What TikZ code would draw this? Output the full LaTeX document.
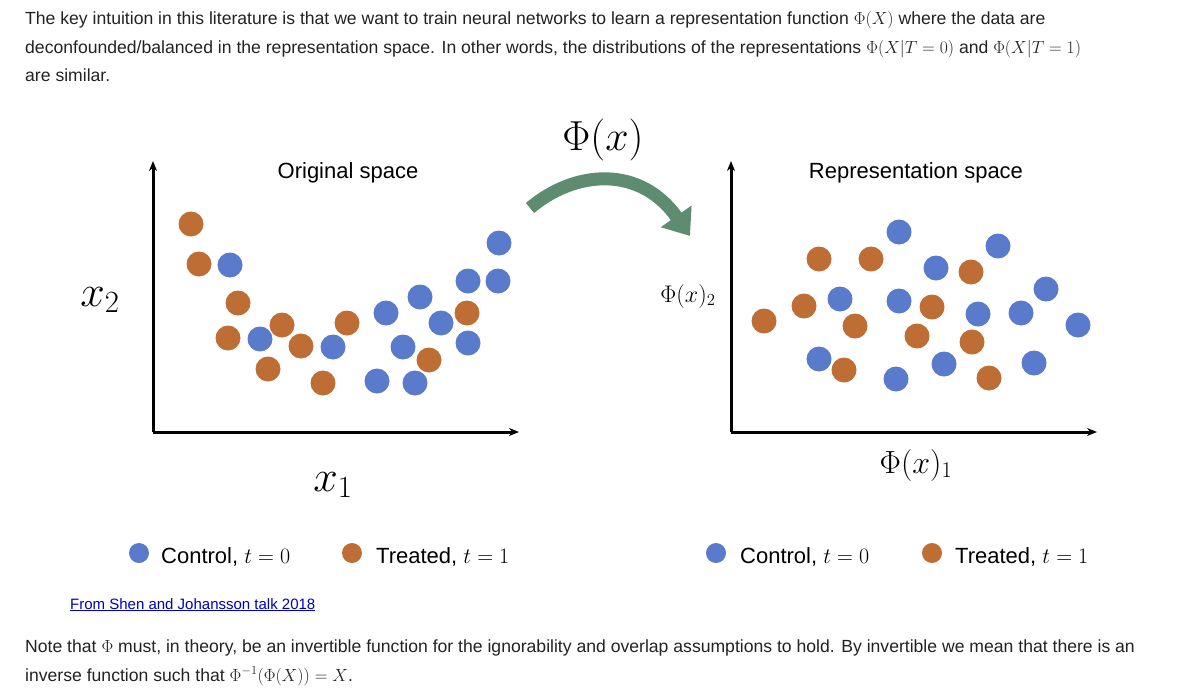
\RequirePackage{fix-cm}
\documentclass[tikz,border=0pt]{standalone}
\usepackage{fontspec}
\setmainfont{Liberation Sans}
\usetikzlibrary{arrows.meta}
\definecolor{blu}{HTML}{5A7BCB}
\definecolor{org}{HTML}{BE6E35}
\definecolor{grn}{HTML}{5E8C70}
\definecolor{txt}{HTML}{222222}
\begin{document}
\begin{tikzpicture}[x=1pt,y=-1pt,
  body/.style={anchor=base west,inner sep=0,font=\fontsize{17.6}{20}\selectfont,text=txt},
  b/.style={fill=blu,draw=none},
  o/.style={fill=org,draw=none},
  ax/.style={line width=3pt,-{Stealth[length=10pt,width=8pt]}},
  lab/.style={inner sep=0,font=\fontsize{22}{26}\selectfont},
  leg/.style={anchor=base west,inner sep=0,font=\fontsize{22}{26}\selectfont}]
\useasboundingbox (0,0) rectangle (1200,691);
\node[body] (t1) at (25,24) {The key intuition in this literature is that we want to train neural networks to learn a representation function $\Phi(X)$ where the data are};
\node[body] (t2) at (25,53) {deconfounded/balanced in the representation space. In other words, the distributions of the representations $\Phi(X|T=0)$ and $\Phi(X|T=1)$};
\node[body] (t3) at (25,81) {are similar.};
% axes
\coordinate (o1) at (153,432); \coordinate (y1) at (153,161); \coordinate (x1e) at (519,432);
\coordinate (o2) at (731,432); \coordinate (y2) at (731,161); \coordinate (x2e) at (1097,432);
\draw[ax] (o1) -- (y1); \draw[ax] (o1) -- (x1e);
\draw[ax] (o2) -- (y2); \draw[ax] (o2) -- (x2e);
\node[lab] (os) at (348,173) {Original space};
\node[lab] (rs) at (916,173) {Representation space};
\node[inner sep=0,font=\fontsize{44}{48}\selectfont] (xb) at (100,300) {$x_2$};
\node[inner sep=0,font=\fontsize{44}{48}\selectfont] (xa) at (333,485) {$x_1$};
\node[inner sep=0,font=\fontsize{24}{28}\selectfont] (p2) at (688,296) {$\Phi(x)_2$};
\node[inner sep=0,font=\fontsize{32}{36}\selectfont] (p1) at (916,465) {$\Phi(x)_1$};
\node[inner sep=0,font=\fontsize{42}{46}\selectfont] (ph) at (603,140) {$\Phi(x)$};
% arrow
\coordinate (as) at (530,208); \coordinate (ae) at (690,236);
\draw[grn,line width=13pt,-{Triangle[length=24pt,width=36pt]}] (as) .. controls (575,170) and (640,165) .. (ae);
% left dots
\foreach \x/\y in {191/224,199/264,238/303,228/338,282/325,301/346,268/369,347/323,323/383,429/360,467/313}
  \fill[o] (\x,\y) circle (12.5);
\foreach \x/\y in {230/265,260/339,333/347,386/313,420/297,403/347,377/381,415/383,441/323,468/281,498/281,499/243,468/343}
  \fill[b] (\x,\y) circle (12.5);
% right dots
\foreach \x/\y in {819/259,871/259,971/272,804/306,764/321,855/326,932/307,917/336,972/342,844/370,989/378}
  \fill[o] (\x,\y) circle (12.5);
\foreach \x/\y in {899/232,998/246,936/268,840/299,899/301,978/314,1021/313,1046/289,1078/325,819/359,944/364,1034/363,896/379}
  \fill[b] (\x,\y) circle (12.5);
% legends
\fill[b] (139,553) circle (10); \node[leg] (l1) at (161,563) {Control, $t=0$};
\fill[o] (352,553) circle (10); \node[leg] (l2) at (376,563) {Treated, $t=1$};
\fill[b] (716,553) circle (10); \node[leg] (l3) at (740,563) {Control, $t=0$};
\fill[o] (932,553) circle (10); \node[leg] (l4) at (955,563) {Treated, $t=1$};
\node[anchor=base west,inner sep=0,font=\fontsize{15}{18}\selectfont,text=blue!75!black] (src) at (70,609) {\underline{From Shen and Johansson talk 2018}};
\node[body] (b1) at (25,652) {Note that $\Phi$ must, in theory, be an invertible function for the ignorability and overlap assumptions to hold. By invertible we mean that there is an};
\node[body] (b2) at (25,681) {inverse function such that $\Phi^{-1}(\Phi(X))=X$.};
\end{tikzpicture}
\end{document}
